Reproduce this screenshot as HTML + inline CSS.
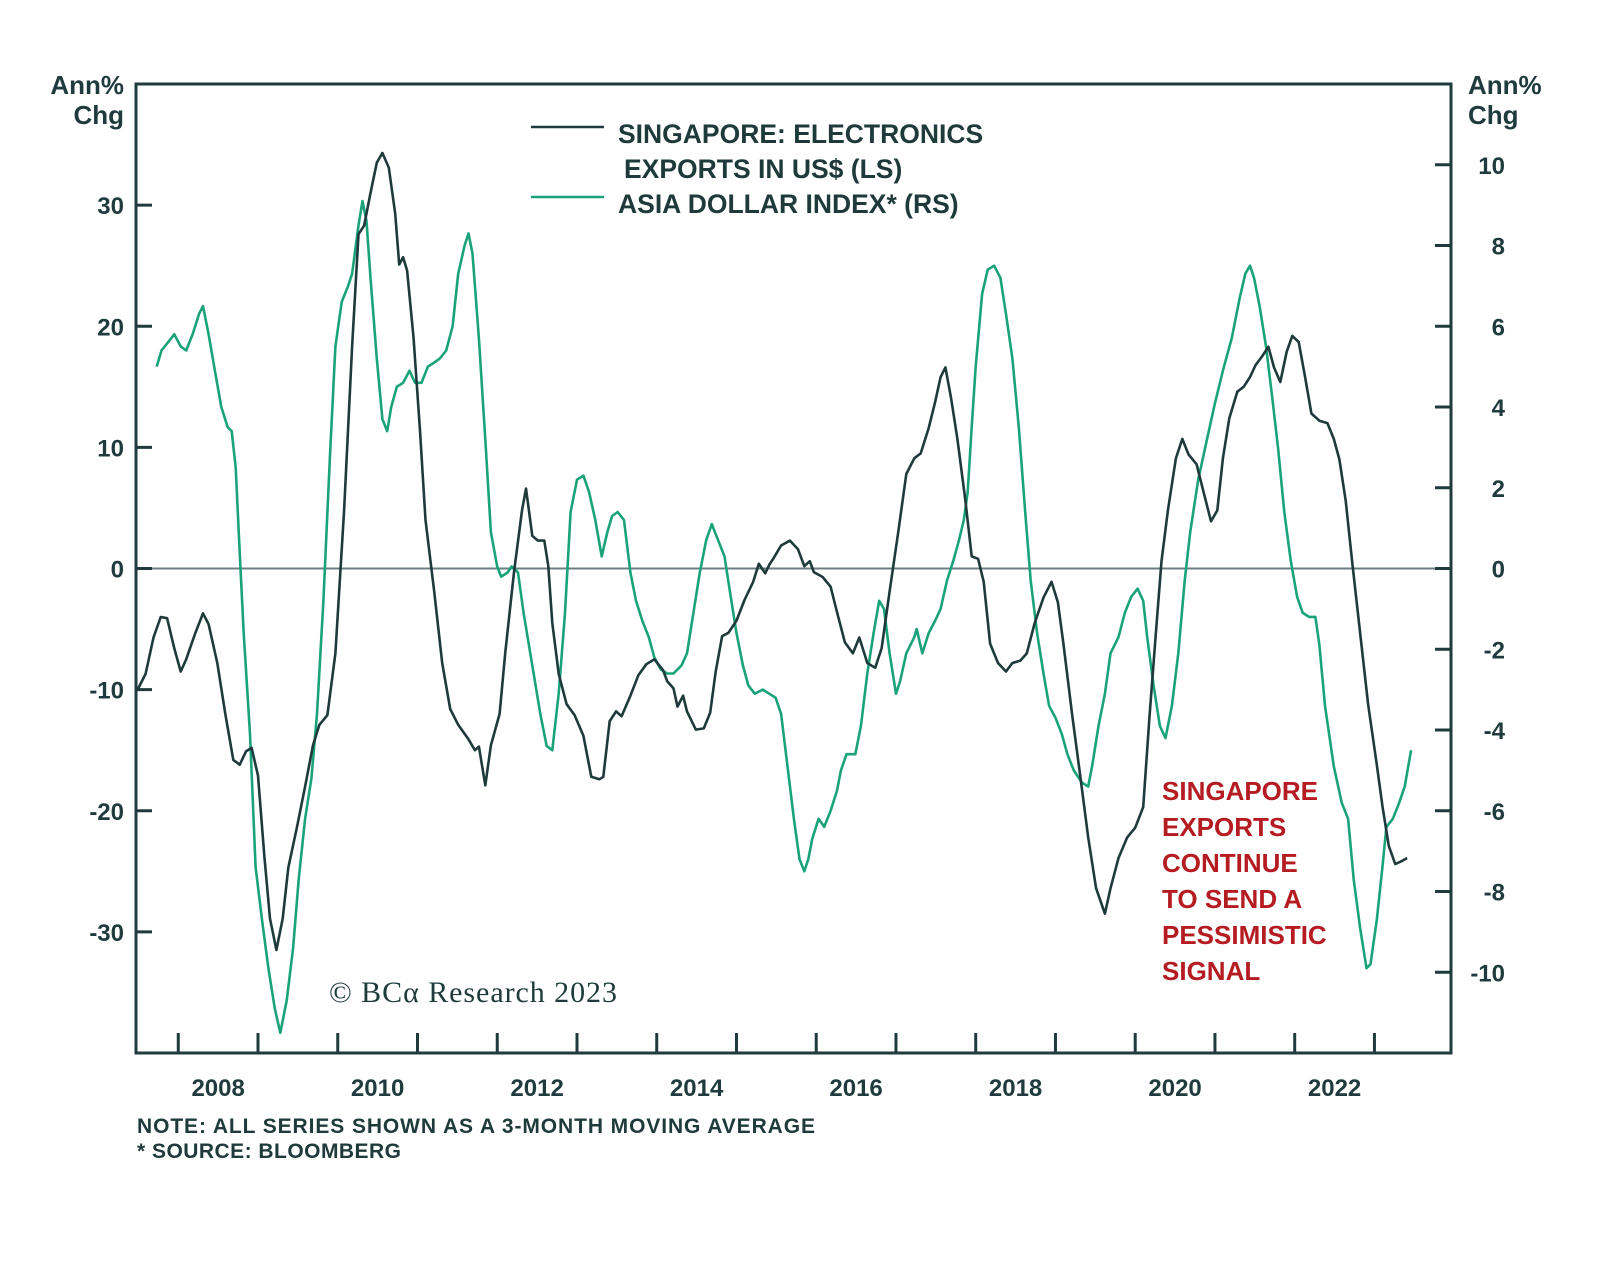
<!DOCTYPE html>
<html><head><meta charset="utf-8">
<style>
html,body{margin:0;padding:0;background:#fff;}
svg{display:block;}
text{font-family:"Liberation Sans",sans-serif;}
</style></head>
<body>
<svg id="chart" width="1600" height="1263" viewBox="0 0 1600 1263" xmlns="http://www.w3.org/2000/svg">
<rect width="1600" height="1263" fill="#fff"/>
<g id="axes"></g>
<g id="series"></g>
<g>
  <line x1="531" y1="127" x2="604" y2="127" stroke="#1e3a3a" stroke-width="2.5"/>
  <text x="618" y="143" font-size="26.5" font-weight="bold" fill="#1e3a3a">SINGAPORE: ELECTRONICS</text>
  <text x="624" y="178" font-size="26.5" font-weight="bold" fill="#1e3a3a">EXPORTS IN US$ (LS)</text>
  <line x1="531" y1="197" x2="604" y2="197" stroke="#1aa37a" stroke-width="2.5"/>
  <text x="618" y="213" font-size="26.5" font-weight="bold" fill="#1e3a3a">ASIA DOLLAR INDEX* (RS)</text>
</g>
<text x="329" y="1002" font-size="30" fill="#1e3a3a" style="font-family:'Liberation Serif',serif" textLength="288">© BCα Research 2023</text>
<g font-size="26" font-weight="bold" fill="#b51c22">
  <text x="1162" y="800">SINGAPORE</text>
  <text x="1162" y="836">EXPORTS</text>
  <text x="1162" y="872">CONTINUE</text>
  <text x="1162" y="908">TO SEND A</text>
  <text x="1162" y="944">PESSIMISTIC</text>
  <text x="1162" y="980">SIGNAL</text>
</g>
<text x="137" y="1133" font-size="21" font-weight="bold" fill="#1e3a3a" textLength="678">NOTE: ALL SERIES SHOWN AS A 3-MONTH MOVING AVERAGE</text>
<text x="137" y="1158" font-size="21" font-weight="bold" fill="#1e3a3a" textLength="264">* SOURCE: BLOOMBERG</text>
</svg>
<script>
const blackYears=[2007.49,2007.59,2007.69,2007.78,2007.86,2007.95,2008.03,2008.10,2008.21,2008.31,2008.38,2008.49,2008.59,2008.69,2008.77,2008.85,2008.92,2009.00,2009.08,2009.15,2009.23,2009.31,2009.38,2009.49,2009.59,2009.69,2009.77,2009.87,2009.97,2010.08,2010.18,2010.26,2010.33,2010.41,2010.49,2010.56,2010.64,2010.72,2010.77,2010.82,2010.87,2010.95,2011.03,2011.10,2011.21,2011.31,2011.41,2011.51,2011.64,2011.72,2011.77,2011.85,2011.92,2012.03,2012.10,2012.21,2012.31,2012.36,2012.44,2012.51,2012.59,2012.64,2012.69,2012.77,2012.87,2012.97,2013.08,2013.18,2013.28,2013.33,2013.41,2013.49,2013.56,2013.67,2013.77,2013.87,2013.97,2014.08,2014.13,2014.21,2014.26,2014.33,2014.38,2014.49,2014.59,2014.67,2014.74,2014.82,2014.90,2015.00,2015.10,2015.21,2015.28,2015.36,2015.41,2015.46,2015.56,2015.67,2015.77,2015.85,2015.92,2015.97,2016.08,2016.18,2016.26,2016.36,2016.46,2016.54,2016.64,2016.74,2016.82,2016.92,2017.03,2017.13,2017.23,2017.31,2017.41,2017.49,2017.56,2017.62,2017.69,2017.77,2017.87,2017.95,2018.03,2018.10,2018.18,2018.28,2018.38,2018.46,2018.56,2018.64,2018.74,2018.85,2018.95,2019.03,2019.10,2019.21,2019.31,2019.41,2019.51,2019.62,2019.69,2019.79,2019.90,2020.00,2020.10,2020.18,2020.26,2020.33,2020.41,2020.51,2020.59,2020.67,2020.77,2020.85,2020.95,2021.03,2021.10,2021.18,2021.28,2021.36,2021.44,2021.51,2021.59,2021.67,2021.74,2021.82,2021.90,2021.97,2022.05,2022.13,2022.21,2022.31,2022.41,2022.49,2022.56,2022.64,2022.72,2022.82,2022.92,2023.03,2023.10,2023.18,2023.26,2023.33,2023.41];
const blackValues=[-10.0,-8.7,-5.7,-4.0,-4.1,-6.6,-8.5,-7.5,-5.4,-3.7,-4.6,-7.8,-12.0,-15.8,-16.2,-15.1,-14.8,-17.1,-23.8,-28.9,-31.5,-28.9,-24.7,-21.3,-18.0,-14.6,-12.9,-12.1,-7.0,4.8,18.3,27.6,28.3,31.0,33.5,34.3,33.1,29.3,25.1,25.7,24.6,19.1,11.5,4.0,-1.9,-7.8,-11.6,-12.9,-14.1,-15.0,-14.7,-17.9,-14.6,-12.0,-7.0,-0.3,4.8,6.6,2.7,2.3,2.3,0.2,-4.5,-8.7,-11.2,-12.1,-13.8,-17.2,-17.4,-17.2,-12.6,-11.8,-12.2,-10.5,-8.8,-7.9,-7.5,-8.4,-9.3,-9.9,-11.4,-10.5,-11.8,-13.3,-13.2,-11.9,-8.5,-5.6,-5.3,-4.3,-2.6,-1.1,0.4,-0.4,0.3,0.8,1.9,2.3,1.6,0.2,0.6,-0.3,-0.7,-1.5,-3.6,-6.1,-7.0,-5.7,-7.8,-8.2,-6.6,-1.9,3.1,7.8,9.1,9.5,11.6,13.7,15.8,16.6,14.1,10.7,5.6,1.0,0.8,-1.1,-6.2,-7.8,-8.5,-7.8,-7.6,-7.0,-4.5,-2.4,-1.1,-2.8,-6.2,-12.1,-17.1,-22.2,-26.4,-28.5,-26.4,-23.9,-22.2,-21.4,-19.7,-12.1,-5.3,0.6,4.8,9.1,10.7,9.4,8.6,6.5,3.9,4.8,9.1,12.4,14.6,15.0,15.8,16.8,17.5,18.3,16.6,15.4,17.9,19.2,18.7,15.8,12.8,12.2,12.0,10.7,9.0,5.6,0.6,-5.3,-11.2,-16.2,-19.6,-22.9,-24.4,-24.2,-23.9];
const greenYears=[2007.73,2007.79,2007.87,2007.95,2008.03,2008.10,2008.18,2008.26,2008.31,2008.38,2008.46,2008.54,2008.62,2008.67,2008.72,2008.77,2008.82,2008.90,2008.97,2009.05,2009.13,2009.21,2009.28,2009.36,2009.44,2009.51,2009.59,2009.67,2009.74,2009.82,2009.90,2009.97,2010.05,2010.13,2010.18,2010.26,2010.31,2010.36,2010.41,2010.49,2010.56,2010.62,2010.67,2010.74,2010.82,2010.90,2010.97,2011.05,2011.13,2011.21,2011.28,2011.36,2011.44,2011.51,2011.59,2011.64,2011.69,2011.77,2011.85,2011.92,2012.00,2012.05,2012.13,2012.18,2012.26,2012.33,2012.44,2012.54,2012.62,2012.69,2012.77,2012.85,2012.92,2013.00,2013.08,2013.15,2013.23,2013.31,2013.38,2013.44,2013.51,2013.59,2013.67,2013.74,2013.82,2013.90,2013.97,2014.05,2014.13,2014.21,2014.31,2014.38,2014.46,2014.54,2014.62,2014.69,2014.77,2014.85,2014.92,2015.00,2015.08,2015.15,2015.23,2015.33,2015.41,2015.49,2015.56,2015.64,2015.72,2015.79,2015.85,2015.90,2015.95,2016.03,2016.10,2016.18,2016.26,2016.31,2016.38,2016.49,2016.56,2016.64,2016.72,2016.79,2016.85,2016.92,2017.00,2017.05,2017.13,2017.23,2017.26,2017.33,2017.41,2017.49,2017.56,2017.64,2017.72,2017.79,2017.85,2017.90,2017.95,2018.00,2018.08,2018.15,2018.23,2018.31,2018.38,2018.46,2018.54,2018.62,2018.69,2018.77,2018.85,2018.92,2019.00,2019.08,2019.15,2019.23,2019.33,2019.41,2019.46,2019.54,2019.62,2019.69,2019.79,2019.87,2019.95,2020.03,2020.10,2020.15,2020.23,2020.31,2020.38,2020.46,2020.54,2020.62,2020.69,2020.79,2020.90,2021.00,2021.10,2021.21,2021.31,2021.38,2021.44,2021.49,2021.56,2021.64,2021.72,2021.79,2021.87,2021.95,2022.03,2022.10,2022.18,2022.26,2022.31,2022.38,2022.49,2022.59,2022.67,2022.74,2022.82,2022.90,2022.95,2023.03,2023.10,2023.15,2023.23,2023.31,2023.38,2023.46];
const greenValues=[5.0,5.4,5.6,5.8,5.5,5.4,5.8,6.3,6.5,5.8,4.9,4.0,3.5,3.4,2.5,0.4,-1.6,-4.1,-7.4,-8.7,-9.9,-10.9,-11.5,-10.7,-9.4,-7.7,-6.2,-5.2,-3.6,-0.8,2.7,5.5,6.6,7.0,7.3,8.5,9.1,8.6,7.2,5.2,3.7,3.4,4.0,4.5,4.6,4.9,4.6,4.6,5.0,5.1,5.2,5.4,6.0,7.3,8.0,8.3,7.8,5.7,3.2,0.9,0.05,-0.2,-0.1,0.05,-0.1,-1.1,-2.4,-3.6,-4.4,-4.5,-3.1,-1.1,1.4,2.2,2.3,1.9,1.2,0.3,0.9,1.3,1.4,1.2,-0.1,-0.8,-1.3,-1.7,-2.2,-2.5,-2.6,-2.6,-2.4,-2.1,-1.1,-0.1,0.7,1.1,0.7,0.3,-0.6,-1.6,-2.4,-2.9,-3.1,-3.0,-3.1,-3.2,-3.6,-4.9,-6.2,-7.2,-7.5,-7.2,-6.7,-6.2,-6.4,-6.0,-5.5,-5.0,-4.6,-4.6,-3.9,-2.6,-1.6,-0.8,-1.0,-2.1,-3.1,-2.8,-2.1,-1.7,-1.5,-2.1,-1.6,-1.3,-1.0,-0.3,0.2,0.7,1.2,1.9,3.5,5.0,6.8,7.4,7.5,7.2,6.3,5.2,3.5,1.4,-0.3,-1.6,-2.6,-3.4,-3.7,-4.1,-4.6,-5.0,-5.3,-5.4,-4.9,-3.9,-3.1,-2.1,-1.7,-1.1,-0.7,-0.5,-0.8,-1.7,-2.9,-3.9,-4.2,-3.4,-2.1,-0.3,0.9,2.2,3.2,4.1,4.9,5.7,6.7,7.3,7.5,7.2,6.5,5.5,4.2,3.0,1.4,0.2,-0.7,-1.1,-1.2,-1.2,-1.9,-3.4,-4.9,-5.8,-6.2,-7.7,-8.9,-9.9,-9.8,-8.7,-7.4,-6.4,-6.2,-5.8,-5.4,-4.5];
const leftTicks=[30,20,10,0,-10,-20,-30];
const rightTicks=[10,8,6,4,2,0,-2,-4,-6,-8,-10];
const yearTicks=[2008,2009,2010,2011,2012,2013,2014,2015,2016,2017,2018,2019,2020,2021,2022,2023];
const yearLabels=[2008,2010,2012,2014,2016,2018,2020,2022];

const L=136,R=1451,T=84,B=1053;
const X0=2007.47,X1=2023.96;
const xs=y=>L+(y-X0)/(X1-X0)*(R-L);
const yl=v=>T+(40-v)/80*(B-T);
const yr=v=>T+(12-v)/24*(B-T);
const NS="http://www.w3.org/2000/svg";
function mk(tag,attrs,parent,txt){const e=document.createElementNS(NS,tag);for(const k in attrs)e.setAttribute(k,attrs[k]);if(txt!==undefined)e.textContent=txt;parent.appendChild(e);return e;}
const ax=document.getElementById('axes');
const C="#1f3b3d";
let z=mk('line',{x1:L,x2:R,y1:yl(0),y2:yl(0),stroke:"#6b7f80","stroke-width":2},ax);


let fr=mk('rect',{x:L,y:T,width:R-L,height:B-T,fill:"none",stroke:C,"stroke-width":3},ax);


leftTicks.forEach(v=>{
  mk('line',{x1:L,x2:L+16,y1:yl(v),y2:yl(v),stroke:C,"stroke-width":3},ax);
  const t=mk('text',{x:124,y:yl(v)+9,"text-anchor":"end","font-size":24,"font-weight":"bold",fill:C},ax,String(v));
  
  
});
rightTicks.forEach(v=>{
  mk('line',{x1:R-16,x2:R,y1:yr(v),y2:yr(v),stroke:C,"stroke-width":3},ax);
  const t=mk('text',{x:1505,y:yr(v)+9,"text-anchor":"end","font-size":24,"font-weight":"bold",fill:C},ax,String(v));
  
  
});
yearTicks.forEach(y=>{
  mk('line',{x1:xs(y),x2:xs(y),y1:B-20,y2:B,stroke:C,"stroke-width":3},ax);
});
yearLabels.forEach(y=>{
  const t=mk('text',{x:xs(y+0.5),y:1096,"text-anchor":"middle","font-size":24,"font-weight":"bold",fill:C},ax,String(y));
  
  
});
[[124,"end"],[1468,"start"]].forEach(([x,a],i)=>{
  const t1=mk('text',{x:x,y:94,"text-anchor":a,"font-size":26,"font-weight":"bold",fill:C},ax,"Ann%");
  
  
  const t2=mk('text',{x:x,y:124,"text-anchor":a,"font-size":26,"font-weight":"bold",fill:C},ax,"Chg");
  
  
});
const sg=document.getElementById('series');
let gp=mk('path',{d:greenYears.map((y,i)=>(i?'L':'M')+xs(y).toFixed(1)+' '+yr(greenValues[i]).toFixed(1)).join(''),fill:"none",stroke:"#1aa37a","stroke-width":2.6,"stroke-linejoin":"round"},sg);


let bp=mk('path',{d:blackYears.map((y,i)=>(i?'L':'M')+xs(y).toFixed(1)+' '+yl(blackValues[i]).toFixed(1)).join(''),fill:"none",stroke:"#1e3a3a","stroke-width":2.6,"stroke-linejoin":"round"},sg);


</script>
</body></html>
